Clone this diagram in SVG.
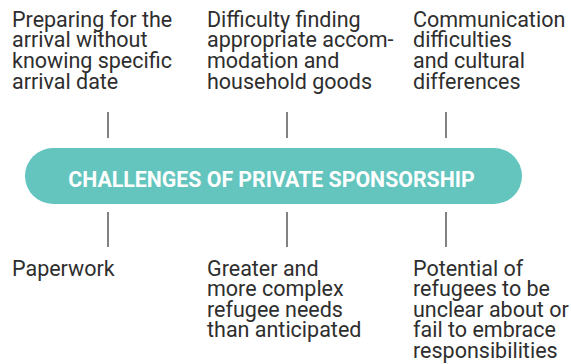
<svg xmlns="http://www.w3.org/2000/svg" width="571" height="364" viewBox="0 0 571 364">
<style>
.t{font-family:Roboto,"Liberation Sans",sans-serif;font-size:21.5px;fill:#2e2e2e}
.c{stroke:#2e2e2e;stroke-width:1.2;fill:none}
.h{font-family:Roboto,"Liberation Sans",sans-serif;font-size:21.3px;font-weight:bold;fill:#ffffff}
</style>
<rect width="571" height="364" fill="#ffffff"/>
<g id="connectors">
<line class="c" x1="108" y1="112" x2="108" y2="138"/>
<line class="c" x1="287" y1="112" x2="287" y2="138"/>
<line class="c" x1="446" y1="112" x2="446" y2="138"/>
<line class="c" x1="108" y1="212" x2="108" y2="247"/>
<line class="c" x1="287" y1="212" x2="287" y2="247"/>
<line class="c" x1="446" y1="212" x2="446" y2="247"/>
</g>
<g id="center">
<rect x="25" y="148" width="497" height="56" rx="28" fill="#63c5be"/>
<text class="h" x="271.5" y="186.5" text-anchor="middle">CHALLENGES OF PRIVATE SPONSORSHIP</text>
</g>
<g id="n1">
<text class="t" x="12" y="26.5"><tspan x="12">Preparing for the</tspan><tspan x="12" dy="20.7">arrival without</tspan><tspan x="12" dy="20.7">knowing specific</tspan><tspan x="12" dy="20.7">arrival date</tspan></text>
</g>
<g id="n2">
<text class="t" x="207" y="26.5"><tspan x="207">Difficulty finding</tspan><tspan x="207" dy="20.7">appropriate accom-</tspan><tspan x="207" dy="20.7">modation and</tspan><tspan x="207" dy="20.7">household goods</tspan></text>
</g>
<g id="n3">
<text class="t" x="413" y="26.5"><tspan x="413">Communication</tspan><tspan x="413" dy="20.7">difficulties</tspan><tspan x="413" dy="20.7">and cultural</tspan><tspan x="413" dy="20.7">differences</tspan></text>
</g>
<g id="n4">
<text class="t" x="12" y="275.5">Paperwork</text>
</g>
<g id="n5">
<text class="t" x="207" y="275.5"><tspan x="207">Greater and</tspan><tspan x="207" dy="20.5">more complex</tspan><tspan x="207" dy="20.5">refugee needs</tspan><tspan x="207" dy="20.5">than anticipated</tspan></text>
</g>
<g id="n6">
<text class="t" x="413" y="275.5"><tspan x="413">Potential of</tspan><tspan x="413" dy="20.5">refugees to be</tspan><tspan x="413" dy="20.5">unclear about or</tspan><tspan x="413" dy="20.5">fail to embrace</tspan><tspan x="413" dy="20.5">responsibilities</tspan></text>
</g>
</svg>
